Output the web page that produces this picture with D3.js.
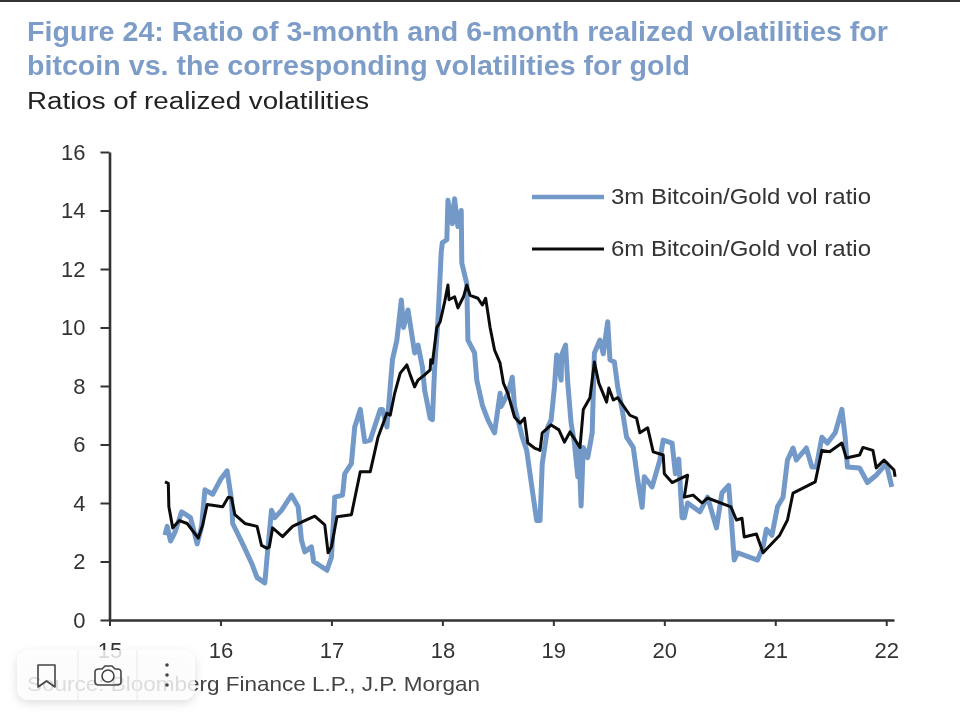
<!DOCTYPE html>
<html><head><meta charset="utf-8">
<script src="https://cdnjs.cloudflare.com/ajax/libs/d3/7.8.5/d3.min.js"></script>
<style>
html,body{margin:0;padding:0;background:#fff;}
svg{display:block;font-family:"Liberation Sans",Arial,sans-serif;}
#main{filter:blur(0.6px);}
</style></head><body>
<svg id="c" width="960" height="720"></svg>
<script>
const years3m=[15.50,15.52,15.55,15.59,15.65,15.73,15.79,15.83,15.86,15.93,16.0,16.06,16.10,16.11,16.2,16.28,16.33,16.40,16.42,16.46,16.49,16.55,16.64,16.70,16.73,16.76,16.82,16.84,16.96,17.0,17.03,17.1,17.12,17.18,17.21,17.26,17.30,17.35,17.44,17.46,17.5,17.55,17.59,17.63,17.65,17.69,17.75,17.78,17.82,17.84,17.89,17.91,17.93,17.96,17.99,18.0,18.04,18.05,18.09,18.11,18.14,18.17,18.175,18.22,18.23,18.29,18.31,18.36,18.41,18.47,18.52,18.53,18.59,18.63,18.65,18.72,18.76,18.81,18.85,18.88,18.9,18.95,18.98,19.01,19.03,19.07,19.075,19.11,19.13,19.16,19.19,19.22,19.23,19.25,19.27,19.31,19.35,19.37,19.42,19.45,19.49,19.51,19.55,19.58,19.62,19.66,19.72,19.76,19.8,19.82,19.89,19.96,19.99,20.07,20.1,20.13,20.16,20.18,20.21,20.32,20.39,20.47,20.52,20.58,20.6,20.63,20.66,20.84,20.89,20.92,20.97,21.02,21.07,21.11,21.16,21.19,21.28,21.33,21.37,21.42,21.47,21.54,21.6,21.63,21.65,21.76,21.83,21.91,22.0,22.05];
const values3m=[2.9,3.2,2.7,3.0,3.7,3.5,2.6,3.2,4.45,4.3,4.8,5.1,4.1,3.3,2.6,1.95,1.45,1.27,2.15,3.75,3.5,3.75,4.27,3.87,2.73,2.33,2.5,2.0,1.7,2.15,4.2,4.27,5.0,5.35,6.6,7.2,6.1,6.15,7.2,7.2,6.6,8.9,9.57,10.94,10.0,10.6,9.13,9.4,8.65,7.86,6.9,6.85,8.6,10.25,12.6,12.9,13.0,14.35,13.55,14.4,13.45,14.0,12.2,11.5,9.57,9.13,8.2,7.35,6.84,6.4,7.75,7.3,7.75,8.3,7.3,6.25,5.8,4.45,3.4,3.4,5.35,6.6,6.84,7.97,9.06,8.2,9.06,9.4,8.1,6.73,6.05,4.9,5.9,3.9,5.9,5.55,6.4,9.13,9.57,9.1,10.2,8.9,8.82,7.97,7.2,6.25,5.9,4.8,3.85,4.9,4.55,5.47,6.15,6.05,5.0,5.5,3.5,3.5,4.0,3.7,4.2,3.15,4.35,4.6,3.65,2.05,2.3,2.05,2.5,3.1,2.9,3.87,4.2,5.47,5.88,5.47,5.88,5.23,5.23,6.25,6.05,6.4,7.2,6.25,5.23,5.2,4.7,4.95,5.35,4.55];
const years6m=[15.5,15.53,15.535,15.57,15.63,15.7,15.8,15.84,15.88,16.02,16.07,16.1,16.13,16.22,16.33,16.37,16.42,16.44,16.47,16.56,16.65,16.76,16.85,16.94,16.97,17.0,17.05,17.18,17.26,17.35,17.42,17.5,17.53,17.57,17.62,17.68,17.71,17.75,17.78,17.84,17.89,17.895,17.91,17.95,17.98,18.02,18.05,18.06,18.11,18.14,18.19,18.22,18.25,18.32,18.36,18.39,18.41,18.43,18.47,18.52,18.55,18.59,18.65,18.7,18.74,18.77,18.83,18.88,18.9,18.98,19.05,19.1,19.15,19.24,19.27,19.33,19.37,19.41,19.48,19.5,19.54,19.58,19.69,19.75,19.78,19.85,19.9,19.99,20.0,20.07,20.21,20.18,20.26,20.34,20.39,20.6,20.65,20.7,20.72,20.83,20.89,21.04,21.11,21.16,21.36,21.42,21.49,21.6,21.64,21.76,21.79,21.88,21.91,21.98,22.07,22.08];
const values6m=[4.72,4.67,3.87,3.15,3.4,3.3,2.8,3.25,3.95,3.87,4.2,4.17,3.6,3.3,3.2,2.55,2.45,2.5,3.15,2.85,3.2,3.4,3.55,3.25,2.3,2.5,3.53,3.6,5.07,5.07,6.25,7.07,7.0,7.75,8.44,8.72,8.38,7.97,8.2,8.38,8.55,8.9,8.78,10.0,10.2,10.87,11.45,10.95,11.05,10.67,11.05,11.45,11.1,11.0,10.77,11.0,10.5,10.0,9.23,8.78,8.1,7.75,6.94,6.73,6.9,6.05,5.88,5.8,6.4,6.67,6.5,6.08,6.43,5.9,7.2,7.6,8.82,8.1,7.45,7.93,7.52,7.6,7.0,6.9,6.4,6.57,5.75,5.64,5.0,4.7,4.95,4.2,4.27,4.0,4.17,3.87,3.42,3.48,2.84,2.94,2.3,2.9,3.42,4.34,4.72,5.8,5.75,6.05,5.54,5.64,5.9,5.8,5.2,5.47,5.13,4.9];
const yTicks=[0,2,4,6,8,10,12,14,16];
const xTicks=[15,16,17,18,19,20,21,22];
const titleLines=["Figure 24: Ratio of 3-month and 6-month realized volatilities for","bitcoin vs. the corresponding volatilities for gold"];
const titleWidths=[861,663];
const subtitle="Ratios of realized volatilities";
const source="Source: Bloomberg Finance L.P., J.P. Morgan";
const seriesNames=["3m Bitcoin/Gold vol ratio","6m Bitcoin/Gold vol ratio"];
const BLUE="#7399c9",BLACK="#0b0b0b",INK="#333";

const svg=d3.select("#c");
svg.append("rect").attr("x",0).attr("y",0).attr("width",960).attr("height",2).attr("fill","#333");
const g=svg.append("g").attr("id","main");
const x=d3.scaleLinear().domain([15,22.07]).range([109.5,894]);
const y=d3.scaleLinear().domain([0,16]).range([620,152]);

g.selectAll("text.t").data(titleLines).join("text").attr("class","t")
 .attr("x",27).attr("y",(d,i)=>41+i*34).attr("font-size",27).attr("font-weight","bold")
 .attr("textLength",(d,i)=>titleWidths[i]).attr("lengthAdjust","spacingAndGlyphs")
 .attr("fill","#7d9dc8").text(d=>d);
g.append("text").attr("x",27).attr("y",109).attr("font-size",23)
 .attr("textLength",342).attr("lengthAdjust","spacingAndGlyphs").attr("fill","#222").text(subtitle);

const ay=g.append("g").attr("transform","translate(109.5,0)")
 .call(d3.axisLeft(y).tickValues(yTicks).tickSize(9).tickSizeOuter(0).tickPadding(15));
const ax=g.append("g").attr("transform","translate(0,620)")
 .call(d3.axisBottom(x).tickValues(xTicks).tickFormat(d3.format("d")).tickSize(6).tickSizeOuter(0).tickPadding(16));
[ay,ax].forEach(a=>{
  a.selectAll("path").attr("stroke",INK).attr("stroke-width",2.6);
  a.selectAll("line").attr("stroke",INK).attr("stroke-width",2);
  a.selectAll("text").attr("font-size",22).attr("font-family","'Liberation Sans',Arial,sans-serif").attr("fill",INK);
});

const line=d3.line().x(d=>x(d[0])).y(d=>y(d[1])).curve(d3.curveLinear);
g.append("path").datum(d3.zip(years3m,values3m)).attr("d",line).attr("fill","none")
 .attr("stroke",BLUE).attr("stroke-width",5).attr("stroke-linejoin","round");
g.append("path").datum(d3.zip(years6m,values6m)).attr("d",line).attr("fill","none")
 .attr("stroke",BLACK).attr("stroke-width",3).attr("stroke-linejoin","round");

const lg=g.append("g");
[[197,BLUE,4.6],[249,BLACK,2.8]].forEach(([ly,c,w],i)=>{
  lg.append("line").attr("x1",532).attr("x2",604).attr("y1",ly).attr("y2",ly).attr("stroke",c).attr("stroke-width",w);
  lg.append("text").attr("x",611).attr("y",ly+7).attr("font-size",22)
    .attr("textLength",260).attr("lengthAdjust","spacingAndGlyphs").attr("fill",INK).text(seriesNames[i]);
});

g.append("text").attr("x",27).attr("y",691).attr("font-size",21)
 .attr("textLength",453).attr("lengthAdjust","spacingAndGlyphs").attr("fill","#444").text(source);

// floating viewer toolbar overlaying the bottom-left corner of the picture
const defs=svg.append("defs");
const f=defs.append("filter").attr("id","sh").attr("x","-20%").attr("y","-30%").attr("width","140%").attr("height","170%");
f.append("feDropShadow").attr("dx",0).attr("dy",3).attr("stdDeviation",5).attr("flood-color","#000").attr("flood-opacity",0.16);
const tb=svg.append("g").attr("id","toolbar");
tb.append("rect").attr("x",17).attr("y",650).attr("width",178).attr("height",50).attr("rx",12)
 .attr("fill","#fff").attr("fill-opacity",0.8).attr("filter","url(#sh)");
[78,137].forEach(v=>tb.append("line").attr("x1",v).attr("x2",v).attr("y1",650).attr("y2",700).attr("stroke","#e8e8e8").attr("stroke-width",1));
tb.append("path").attr("d","M38,665 h17 v22 l-8.5,-6 l-8.5,6 z").attr("fill","none").attr("stroke","#444").attr("stroke-width",1.6).attr("stroke-linejoin","round");
tb.append("path").attr("d","M95,672 q0,-3 4,-3 h3 l3,-3 h7 l3,3 h2 q4,0 4,3 v10 q0,3 -4,3 h-18 q-4,0 -4,-3 z").attr("fill","none").attr("stroke","#444").attr("stroke-width",1.6);
tb.append("circle").attr("cx",108).attr("cy",676).attr("r",6).attr("fill","none").attr("stroke","#444").attr("stroke-width",1.6);
[665,675,685].forEach(v=>tb.append("circle").attr("cx",167).attr("cy",v).attr("r",1.8).attr("fill","#444"));
</script>
</body></html>
